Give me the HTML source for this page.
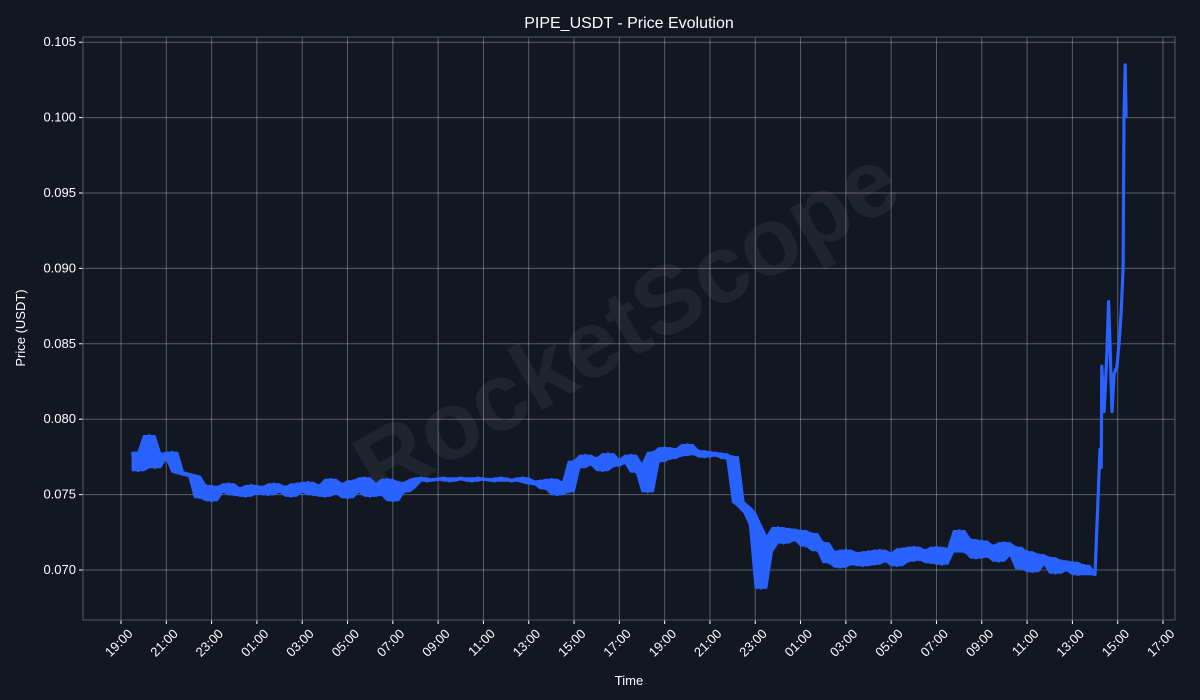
<!DOCTYPE html>
<html><head><meta charset="utf-8"><style>
body{margin:0;background:#131722;}
svg{display:block;font-family:"Liberation Sans","DejaVu Sans",sans-serif;}
</style></head><body>
<svg id="chart" width="1200" height="700" viewBox="0 0 1200 700">
<rect width="1200" height="700" fill="#131722"/>
<text x="629" y="28" fill="#ffffff" font-size="16" text-anchor="middle">PIPE_USDT - Price Evolution</text>
<text x="629" y="685" fill="#ffffff" font-size="13" text-anchor="middle">Time</text>
<text transform="translate(25,328) rotate(-90)" fill="#ffffff" font-size="13" text-anchor="middle">Price (USDT)</text>
<text transform="translate(630,330) rotate(-30)" fill="#ffffff" fill-opacity="0.06" font-size="96" font-weight="bold" text-anchor="middle" dominant-baseline="middle">RocketScope</text>
<g id="grid"></g><g id="axes"></g><g id="series"></g>
<rect x="83" y="37" width="1092" height="583" fill="none" stroke="#555a66"/>
</svg>
<script>
const yTicks=[0.070,0.075,0.080,0.085,0.090,0.095,0.100,0.105];
const yTickLabels=["0.070","0.075","0.080","0.085","0.090","0.095","0.100","0.105"];
const xTickHours=[0,2,4,6,8,10,12,14,16,18,20,22,24,26,28,30,32,34,36,38,40,42,44,46];
const xTickLabels=["19:00","21:00","23:00","01:00","03:00","05:00","07:00","09:00","11:00","13:00","15:00","17:00","19:00","21:00","23:00","01:00","03:00","05:00","07:00","09:00","11:00","13:00","15:00","17:00"];
const mainStart=0.5, mainStep=0.25;
const mainValues=[778,766,776,789,768,777,
774,778,765,764,763,762,
748,756,746,755,752,757,750,754,749,756,751,755,750,757,752,755,749,757,
752,758,750,756,749,760,751,757,748,759,752,761,749,757,750,760,746,758,752,755,
760,761,759,760,760,761,759,760,761,760,759,761,760,760,759,761,760,759,760,761,
758,757,759,754,760,750,758,752,
772,768,776,770,774,766,777,769,773,771,776,765,770,752,
778,772,781,774,780,776,783,777,779,775,778,776,777,774,
775,745,742,738,730,688,712,722,
728,718,727,720,726,716,724,713,718,705,712,702,713,704,711,703,
712,704,713,706,711,703,714,706,715,707,713,705,715,704,712,714,
726,712,720,708,719,709,716,706,718,710,715,701,712,699,710,704,
708,698,706,700,705,697,703,698,
697];
const spikeHours=[43.22,43.27,43.3,43.4,43.53,43.6,43.66,43.75,43.84,43.97,44.06,44.15,44.24,44.28,44.33,44.37];
const spikeValues=[780,768,835,805,845,878,850,805,830,835,850,870,900,1000,1035,1000];

const NS="http://www.w3.org/2000/svg";
const X=h=>121+h*22.652;
const Y=p=>570-(p-0.070)/0.005*75.4;
const grid=document.getElementById('grid'),axes=document.getElementById('axes'),series=document.getElementById('series');
function mk(tag,attrs,parent){const e=document.createElementNS(NS,tag);for(const k in attrs)e.setAttribute(k,attrs[k]);parent.appendChild(e);return e;}
yTicks.forEach((v,i)=>{
  const y=Y(v);
  const g=mk('line',{x1:83,x2:1175,y1:y,y2:y,stroke:'#ffffff','stroke-opacity':0.3,'stroke-width':1},grid);
  
  
  mk('line',{x1:79,x2:83,y1:y,y2:y,stroke:'#ffffff'},axes);
  const t=mk('text',{x:76,y:y+4,fill:'#ffffff','font-size':13,'text-anchor':'end'},axes);
  t.textContent=yTickLabels[i];
  
  
});
xTickHours.forEach((h,i)=>{
  const x=X(h);
  const g=mk('line',{x1:x,x2:x,y1:37,y2:620,stroke:'#ffffff','stroke-opacity':0.3,'stroke-width':1},grid);
  
  
  mk('line',{x1:x,x2:x,y1:620,y2:624,stroke:'#ffffff'},axes);
  const t=mk('text',{transform:`translate(${x+6},${628}) rotate(-45)`,fill:'#ffffff','font-size':13,'text-anchor':'end',dy:'0.7em'},axes);
  t.textContent=xTickLabels[i];
  
  
});
const up=[],dn=[];
mainValues.forEach((v,i)=>{
  const a=mainValues[Math.max(0,i-1)],c=mainValues[Math.min(mainValues.length-1,i+1)];
  const x=X(mainStart+i*mainStep);
  up.push(x.toFixed(1)+','+Y(Math.max(a,v,c)/10000).toFixed(1));
  dn.unshift(x.toFixed(1)+','+Y(Math.min(a,v,c)/10000).toFixed(1));
});
const band=mk('polygon',{points:up.concat(dn).join(' '),fill:'#2962ff',stroke:'#2962ff','stroke-width':1.5,'stroke-linejoin':'round'},series);


const pts=[];
mainValues.forEach((v,i)=>pts.push([X(mainStart+i*mainStep),Y(v/10000)]));
spikeValues.forEach((v,i)=>pts.push([X(spikeHours[i]),Y(v/10000)]));
const line=mk('polyline',{points:pts.map(p=>p[0].toFixed(1)+','+p[1].toFixed(1)).join(' '),fill:'none',stroke:'#2962ff','stroke-width':3.2,'stroke-linejoin':'round'},series);


</script>
</body></html>
